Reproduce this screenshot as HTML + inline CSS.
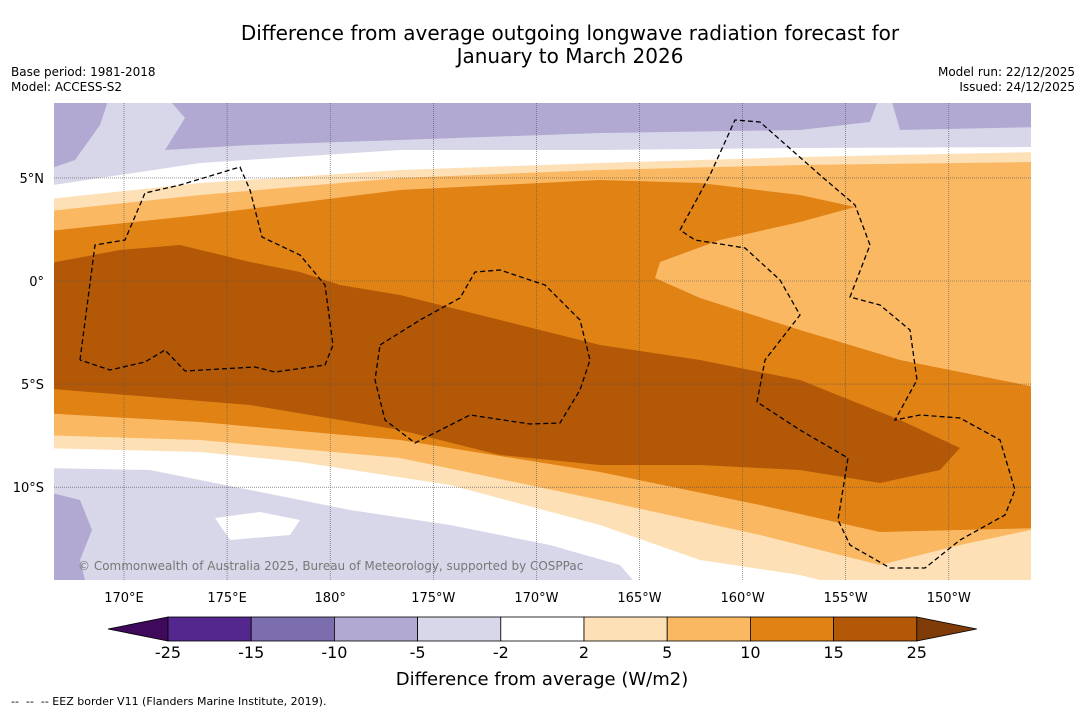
<!DOCTYPE html>
<html><head><meta charset="utf-8"><style>
body{margin:0;background:#fff;font-family:"DejaVu Sans",sans-serif}
#wrap{position:relative;width:1085px;height:713px;overflow:hidden}
.t{position:absolute;white-space:nowrap;color:#000}
</style></head><body>
<div id="wrap">
<div class="t" style="left:0;width:1140px;text-align:center;top:22px;font-size:20px;line-height:23px">Difference from average outgoing longwave radiation forecast for<br>January to March 2026</div>
<div class="t" style="left:11px;top:65px;font-size:12px;line-height:15px">Base period: 1981-2018<br>Model: ACCESS-S2</div>
<div class="t" style="right:10px;top:65px;font-size:12px;line-height:15px;text-align:right">Model run: 22/12/2025<br>Issued: 24/12/2025</div>
<svg id="svg" width="1085" height="713" style="position:absolute;left:0;top:0"></svg>
<div class="t" style="left:11px;top:695px;font-size:11px">-- &nbsp;-- &nbsp;-- EEZ border V11 (Flanders Marine Institute, 2019).</div>
</div>
<script>
const levels=["-25","-15","-10","-5","-2","2","5","10","15","25"];
const colors=["#3f0a5c","#54278f","#7b6dae","#b1a9d2","#d7d7e9","#ffffff","#fde0b6","#fbb862","#e08214","#b35806","#7f3b08"];
const lonTicks=[170,175,180,185,190,195,200,205,210];
const lonLabels=["170°E","175°E","180°","175°W","170°W","165°W","160°W","155°W","150°W"];
const latTicks=[5,0,-5,-10];
const latLabels=["5°N","0°","5°S","10°S"];
const NS="http://www.w3.org/2000/svg";
const FONT='DejaVu Sans';
const svg=document.getElementById('svg');
const X0=54,X1=1031,Y0=103,Y1=580;
function xs(lon){return 124+(lon-170)*20.62;}
function ys(lat){return 281-lat*20.62;}
function px2(p){return p.map(q=>q[0]+','+q[1]).join(' ');}
function add(tag,attrs,name,parent){const e=document.createElementNS(NS,tag);for(const k in attrs)e.setAttribute(k,attrs[k]);


(parent||svg).appendChild(e);return e;}
const defs=add('defs',{},'defs');
const cp=add('clipPath',{id:'mc'},'map-clip',defs);add('rect',{x:X0,y:Y0,width:X1-X0,height:Y1-Y0},'clip-rect',cp);
const g=add('g',{'clip-path':'url(#mc)'},'map-area');
const regions=[
 [6,[[40,200],[200,183],[400,170],[600,163],[800,157],[1040,152],[1040,600],[900,600],[800,575],[700,560],[600,525],[450,485],[300,462],[200,452],[40,448]]],
 [7,[[40,212],[200,195],[400,178],[600,170],[800,165],[1040,162],[1040,528],[960,545],[880,565],[760,535],[600,500],[400,458],[200,440],[40,435]]],
 [8,[[40,232],[200,215],[400,190],[600,180],[700,183],[800,195],[855,207],[800,222],[720,240],[660,262],[655,278],[700,298],[800,330],[900,360],[1040,388],[1040,528],[960,530],[880,532],[760,505],[600,472],[400,440],[200,422],[40,413]]],
 [9,[[40,265],[120,250],[180,245],[250,262],[300,272],[340,285],[400,295],[500,320],[600,345],[700,360],[800,380],[900,420],[960,448],[940,470],[880,483],[800,470],[700,465],[600,465],[500,455],[400,430],[250,405],[40,388]]],
 [4,[[40,103],[1040,103],[1040,147],[800,148],[600,150],[400,150],[200,163],[40,187]]],
 [3,[[165,95],[880,95],[870,122],[800,130],[600,133],[400,140],[250,145],[165,150],[185,118]]],
 [3,[[40,95],[110,95],[100,125],[75,160],[40,172]]],
 [3,[[890,95],[1040,95],[1040,127],[900,130]]],
 [4,[[40,468],[150,470],[250,490],[350,510],[450,525],[550,545],[620,565],[650,600],[40,600]]],
 [5,[[215,518],[260,512],[300,520],[290,535],[230,540]]],
 [3,[[40,490],[80,500],[92,530],[80,560],[90,600],[40,600]]]
];
regions.forEach((r,i)=>{add('polygon',{points:px2(r[1]),fill:colors[r[0]]},'contour-band-'+i,g);});
lonTicks.forEach((l,i)=>add('line',{x1:xs(l),x2:xs(l),y1:Y0,y2:Y1,stroke:'#555','stroke-width':0.6,'stroke-dasharray':'1,1'},'gridline-lon-'+i,g));
latTicks.forEach((l,i)=>add('line',{x1:X0,x2:X1,y1:ys(l),y2:ys(l),stroke:'#555','stroke-width':0.6,'stroke-dasharray':'1,1'},'gridline-lat-'+i,g));
const eez=[
 [[80,360],[95,245],[125,240],[145,193],[180,185],[240,167],[250,190],[262,237],[300,255],[325,285],[333,345],[325,365],[275,372],[255,367],[185,371],[165,350],[145,362],[110,370],[80,360]],
 [[380,345],[420,320],[460,298],[475,272],[500,270],[545,285],[580,320],[590,360],[580,390],[560,423],[530,424],[470,415],[415,443],[385,420],[375,380],[380,345]],
 [[680,230],[710,175],[735,120],[760,122],[820,175],[855,205],[870,245],[850,297],[880,305],[910,330],[917,380],[895,420],[920,415],[960,418],[1000,440],[1015,490],[1005,515],[960,540],[925,568],[890,568],[850,545],[838,520],[848,458],[800,430],[757,402],[765,360],[800,315],[780,280],[745,248],[695,240],[680,230]]
];
eez.forEach((p,i)=>add('polyline',{points:px2(p),fill:'none',stroke:'#000','stroke-width':1.3,'stroke-dasharray':'5,3'},'eez-border-'+i,g));
add('text',{x:78,y:570,'font-size':12,fill:'#777','font-family':FONT},'copyright',g).textContent='© Commonwealth of Australia 2025, Bureau of Meteorology, supported by COSPPac';
lonTicks.forEach((l,i)=>{const t=add('text',{x:xs(l),y:602,'font-size':13,'text-anchor':'middle','font-family':FONT},'lon-tick-'+i);t.textContent=lonLabels[i];});
latTicks.forEach((l,i)=>{const t=add('text',{x:44,y:ys(l)+5,'font-size':13,'text-anchor':'end','font-family':FONT},'lat-tick-'+i);t.textContent=latLabels[i];});
const cbL=168,cbW=83.2,cbT=617,cbH=24;
add('polygon',{points:`108,${cbT+cbH/2} ${cbL},${cbT} ${cbL},${cbT+cbH}`,fill:colors[0],stroke:'#000','stroke-width':0.8},'colorbar-min-extend');
for(let i=0;i<levels.length-1;i++){add('rect',{x:cbL+i*cbW,y:cbT,width:cbW,height:cbH,fill:colors[i+1],stroke:'#000','stroke-width':0.8},'colorbar-box-'+i);}
const cbR=cbL+(levels.length-1)*cbW;
add('polygon',{points:`${cbR},${cbT} ${cbR+60},${cbT+cbH/2} ${cbR},${cbT+cbH}`,fill:colors[10],stroke:'#000','stroke-width':0.8},'colorbar-max-extend');
levels.forEach((l,i)=>{const t=add('text',{x:cbL+i*cbW,y:658,'font-size':16,'text-anchor':'middle','font-family':FONT},'colorbar-label-'+i);t.textContent=l;});
add('text',{x:542,y:685,'font-size':18,'text-anchor':'middle','font-family':FONT},'colorbar-title').textContent='Difference from average (W/m2)';
</script>
</body></html>
